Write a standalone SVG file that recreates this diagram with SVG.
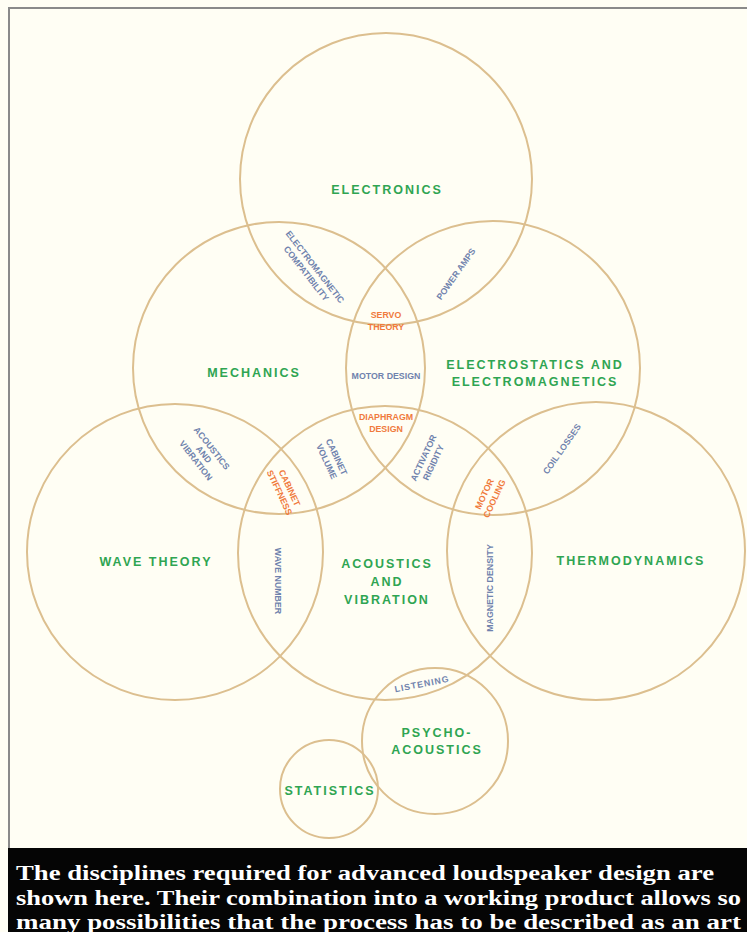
<svg xmlns="http://www.w3.org/2000/svg" width="747" height="932" viewBox="0 0 747 932">
<style>
.c{fill:none;stroke:#dcbf8f;stroke-width:2}
.g{font-family:"Liberation Sans",Arial,sans-serif;font-weight:bold;fill:#2fa552;font-size:12.5px;letter-spacing:2px;text-anchor:middle}
.b{font-family:"Liberation Sans",Arial,sans-serif;font-weight:bold;fill:#6f82ad;font-size:8.8px;text-anchor:middle}
.o{font-family:"Liberation Sans",Arial,sans-serif;font-weight:bold;fill:#f07a3c;font-size:8.8px;text-anchor:middle}
.cap{font-family:"Liberation Serif","Times New Roman",serif;font-weight:bold;fill:#fff;font-size:20px}
</style>
<rect x="0" y="0" width="747" height="932" fill="#fffef4"/>
<path d="M9 848 V8 H747" fill="none" stroke="#8a8a8a" stroke-width="2"/>
<g id="connectors"></g>
<g id="electronics"><circle class="c" cx="386" cy="179" r="146"/><text class="g" x="387" y="194">ELECTRONICS</text></g>
<g id="mechanics"><circle class="c" cx="279" cy="368" r="146"/><text class="g" x="254" y="377">MECHANICS</text></g>
<g id="electrostatics"><circle class="c" cx="493" cy="368" r="147"/><text class="g" x="535" y="369">ELECTROSTATICS AND</text><text class="g" x="535" y="386">ELECTROMAGNETICS</text></g>
<g id="wave-theory"><circle class="c" cx="175" cy="552" r="148"/><text class="g" x="156" y="566">WAVE THEORY</text></g>
<g id="acoustics"><circle class="c" cx="385" cy="553" r="147"/><text class="g" x="387" y="568">ACOUSTICS</text><text class="g" x="387" y="586">AND</text><text class="g" x="387" y="604">VIBRATION</text></g>
<g id="thermodynamics"><circle class="c" cx="596" cy="551" r="149"/><text class="g" x="631" y="565">THERMODYNAMICS</text></g>
<g id="psychoacoustics"><circle class="c" cx="435" cy="741" r="73"/><text class="g" x="437" y="737">PSYCHO-</text><text class="g" x="437" y="754">ACOUSTICS</text></g>
<g id="statistics"><circle class="c" cx="329" cy="789" r="49"/><text class="g" x="330" y="795">STATISTICS</text></g>
<g id="overlap-labels">
<text class="b" transform="translate(311,270) rotate(52)"><tspan x="0" y="-2">ELECTROMAGNETIC</tspan><tspan x="0" y="9">COMPATIBILITY</tspan></text>
<text class="b" transform="translate(456,274) rotate(-55)" x="0" y="3">POWER AMPS</text>
<text class="o" x="386" y="318">SERVO</text><text class="o" x="386" y="330">THEORY</text>
<text class="b" x="386" y="379">MOTOR DESIGN</text>
<text class="o" x="386" y="420">DIAPHRAGM</text><text class="o" x="386" y="432">DESIGN</text>
<text class="b" transform="translate(203,455) rotate(52)"><tspan x="0" y="-8">ACOUSTICS</tspan><tspan x="0" y="2">AND</tspan><tspan x="0" y="12">VIBRATION</tspan></text>
<text class="o" transform="translate(285,490) rotate(65)"><tspan x="0" y="-2">CABINET</tspan><tspan x="0" y="9">STIFFNESS</tspan></text>
<text class="b" transform="translate(332,459) rotate(65)"><tspan x="0" y="-2">CABINET</tspan><tspan x="0" y="9">VOLUME</tspan></text>
<text class="b" transform="translate(428,460) rotate(-65)"><tspan x="0" y="-2">ACTIVATOR</tspan><tspan x="0" y="9">RIGIDITY</tspan></text>
<text class="o" transform="translate(489,496) rotate(-65)"><tspan x="0" y="-2">MOTOR</tspan><tspan x="0" y="9">COOLING</tspan></text>
<text class="b" transform="translate(562,449) rotate(-55)" x="0" y="3">COIL LOSSES</text>
<text class="b" transform="translate(278,581) rotate(90)" x="0" y="3" font-size="7.5">WAVE NUMBER</text>
<text class="b" transform="translate(490,588) rotate(-90)" x="0" y="3" font-size="7.5">MAGNETIC DENSITY</text>
<text class="b" transform="translate(422,684) rotate(-11)" x="0" y="3" letter-spacing="1">LISTENING</text>
</g>
<g id="caption">
<rect x="8" y="848" width="739" height="84" fill="#050505"/>
<text class="cap" x="16" y="880" textLength="698" lengthAdjust="spacingAndGlyphs">The disciplines required for advanced loudspeaker design are</text>
<text class="cap" x="16" y="905" textLength="725" lengthAdjust="spacingAndGlyphs">shown here. Their combination into a working product allows so</text>
<text class="cap" x="16" y="929" textLength="725" lengthAdjust="spacingAndGlyphs">many possibilities that the process has to be described as an art</text>
</g>
</svg>
